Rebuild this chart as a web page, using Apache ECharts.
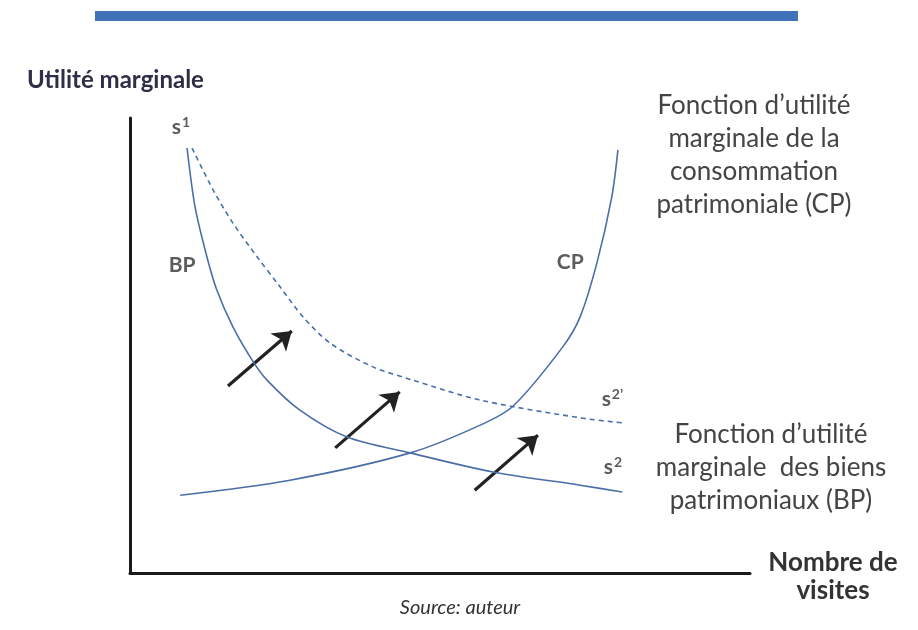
<!DOCTYPE html>
<html>
<head>
<meta charset="utf-8">
<script src="https://cdn.jsdelivr.net/npm/echarts@6/dist/echarts.min.js"></script>
<style>html,body{margin:0;padding:0;background:#fff}#c{width:918px;height:630px}</style>
</head>
<body>
<div id="c"></div>
<script>
// Curve data (x = nombre de visites, y = utilité marginale)
var bpX = [0.92, 1.05, 1.24, 1.40, 1.66, 1.97, 2.21, 2.74, 3.50, 4.52, 5.85, 7.26, 7.94];
var bpY = [9.34, 8.04, 6.95, 6.22, 5.41, 4.68, 4.24, 3.58, 2.99, 2.64, 2.22, 1.93, 1.78];
var s2pX = [1.00, 1.34, 1.66, 2.05, 2.42, 2.79, 3.23, 3.92, 4.56, 5.65, 7.26, 7.94];
var s2pY = [9.34, 8.42, 7.69, 6.95, 6.29, 5.63, 5.05, 4.53, 4.24, 3.80, 3.41, 3.30];
var cpX = [0.81, 2.58, 4.52, 5.65, 6.18, 6.98, 7.26, 7.53, 7.77, 7.87];
var cpY = [1.71, 2.04, 2.64, 3.25, 3.67, 4.97, 5.63, 6.81, 8.26, 9.30];
// Shift arrows: [x1, y1, x2, y2]
var arrows = [
  [1.58, 4.11, 2.61, 5.32],
  [3.31, 2.75, 4.35, 3.98],
  [5.56, 1.82, 6.58, 3.03]
];
// Curve labels: [text, x, y]
var curveLabels = [
  ['s{sup|1}', 0.82, 9.8],
  ['BP', 0.84, 6.77],
  ['CP', 7.10, 6.84],
  ["s{sup|2’}", 7.78, 3.82],
  ['s{sup|2}', 7.79, 2.33]
];

function pairs(xs, ys){ return xs.map(function(x,i){ return [x, ys[i]]; }); }

var curveColor = '#4a6ea8';
var font = 'Lato, "Open Sans", sans-serif';

var chart = echarts.init(document.getElementById('c'));
chart.setOption({
  backgroundColor: '#ffffff',
  animation: false,
  grid: { left: 130, right: 168, top: 118, bottom: 57 },
  xAxis: { type: 'value', min: 0, max: 10, axisLine: { show: true, onZero: false, lineStyle: { color: '#1a1a1a', width: 3 } },
    axisTick: { show: false }, axisLabel: { show: false }, splitLine: { show: false } },
  yAxis: { type: 'value', min: 0, max: 10, axisLine: { show: true, onZero: false, lineStyle: { color: '#1a1a1a', width: 3 } },
    axisTick: { show: false }, axisLabel: { show: false }, splitLine: { show: false } },
  series: [
    { type: 'line', data: pairs(bpX, bpY), smooth: 0.3, showSymbol: false, lineStyle: { color: curveColor, width: 1.6 } },
    { type: 'line', data: pairs(s2pX, s2pY), smooth: 0.3, showSymbol: false, lineStyle: { color: curveColor, width: 1.6, type: [5, 4] } },
    { type: 'line', data: pairs(cpX, cpY), smooth: 0.3, showSymbol: false, lineStyle: { color: curveColor, width: 1.6 } },
    { type: 'lines', coordinateSystem: 'cartesian2d', symbol: ['none', 'arrow'], symbolSize: [0, 18],
      lineStyle: { color: '#222', width: 3.2, opacity: 1 },
      data: arrows.map(function(a){ return { coords: [[a[0], a[1]], [a[2], a[3]]] }; }) },
    { type: 'scatter', symbolSize: 0, silent: true,
      data: curveLabels.map(function(l){ return { value: [l[1], l[2]], name: l[0] }; }),
      label: { show: true, position: 'inside', formatter: function(p){ return p.name; },
        color: '#333', fontFamily: font, fontWeight: 'bold', fontSize: 21,
        rich: { sup: { fontSize: 14, fontWeight: 'bold', color: '#333', fontFamily: font, verticalAlign: 'top', padding: [0, 0, 9, 1] } } } }
  ],
  graphic: [
    { type: 'rect', shape: { x: 95, y: 11, width: 703, height: 10 }, style: { fill: '#3f72b6' } },
    { type: 'text', x: 27, y: 80, style: { text: 'Utilité marginale', font: 'bold 24px ' + font, fill: '#2e2e48', textVerticalAlign: 'middle' } },
    { type: 'text', x: 754, y: 155, style: { text: 'Fonction d’utilité\nmarginale de la\nconsommation\npatrimoniale (CP)', font: '26px ' + font, fill: '#444', textAlign: 'center', textVerticalAlign: 'middle', lineHeight: 33 } },
    { type: 'text', x: 771, y: 468, style: { text: 'Fonction d’utilité\nmarginale  des biens\npatrimoniaux (BP)', font: '26px ' + font, fill: '#444', textAlign: 'center', textVerticalAlign: 'middle', lineHeight: 33 } },
    { type: 'text', x: 833, y: 577, style: { text: 'Nombre de\nvisites', font: 'bold 26px ' + font, fill: '#333', textAlign: 'center', textVerticalAlign: 'middle', lineHeight: 28 } },
    { type: 'text', x: 460, y: 608, style: { text: 'Source: auteur', font: 'italic 20px ' + font, fill: '#333', textAlign: 'center', textVerticalAlign: 'middle' } }
  ]
});
</script>
</body>
</html>
